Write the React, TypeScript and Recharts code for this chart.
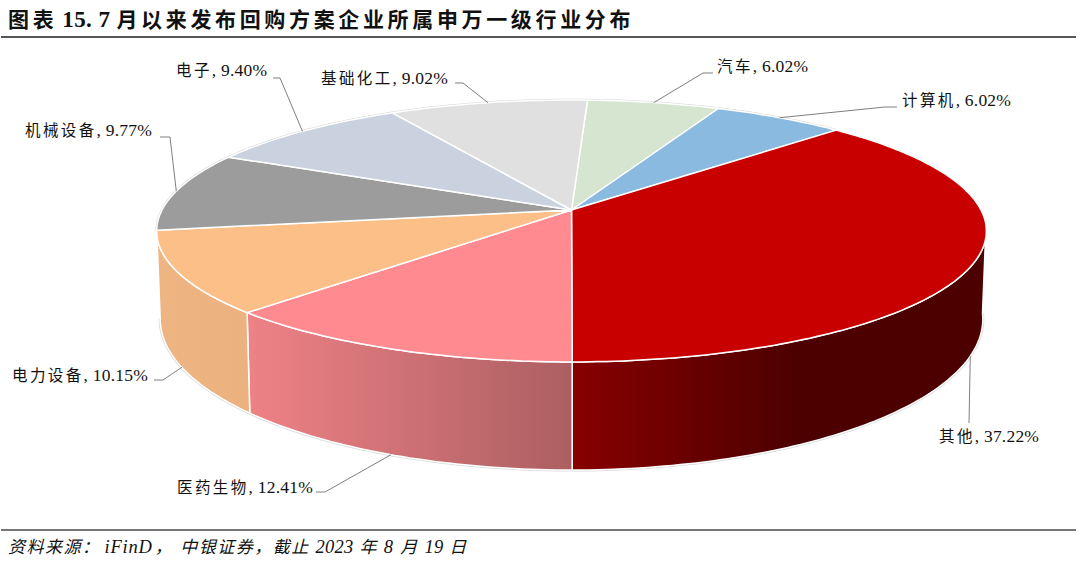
import { PieChart, Pie, Cell } from 'recharts';

const CATEGORIES = ['汽车', '计算机', '其他', '医药生物', '电力设备', '机械设备', '电子', '基础化工'];
const SHARES = [6.02, 6.02, 37.22, 12.41, 10.15, 9.77, 9.4, 9.02];
const TOP_COLORS = ['#d5e5cf', '#8bbae0', '#c80000', '#ff8a90', '#fcbf88', '#9c9c9c', '#c9d2de', '#e0e0e0'];

const chartData = CATEGORIES.map((name, i) => ({ name, value: SHARES[i] }));

// side wall shading, only the three front slices show a wall
const WALLS: Record<number, { x1: number; x2: number; from: string; to: string }> = {
  2: { x1: 571, x2: 800, from: '#880000', to: '#4c0000' },
  3: { x1: 248, x2: 571, from: '#ee8286', to: '#ac5f62' },
  4: { x1: 160, x2: 250, from: '#eeb583', to: '#ebb27f' },
};

// label text position and leader elbow, same order as CATEGORIES
const LABELS = [
  { x: 717, y: 72, elbow: [[703, 73], [713, 73]] },
  { x: 902, y: 106, elbow: [[885, 107], [897, 107]] },
  { x: 939, y: 442, elbow: [[969, 423]] },
  { x: 177, y: 493, elbow: [[325, 492], [316, 492]] },
  { x: 12, y: 381, elbow: [[163, 380], [154, 380]] },
  { x: 25, y: 136, elbow: [[170, 137], [160, 137]] },
  { x: 176, y: 76, elbow: [[280, 78], [273, 78]] },
  { x: 321, y: 84, elbow: [[463, 83], [455, 83]] },
];

const FONT = '"Liberation Serif", "Noto Sans CJK SC", serif';
const PERSPECTIVE = -0.16;
const TOP_DISC = { x: 571.5, y: 210, a: 409.5, b: 127.6 };
const BOTTOM_DISC = { x: 571.5, y: 295, a: 406, b: 147 };

// clockwise degrees from twelve o'clock -> point on the tilted disc
const project = (disc: typeof TOP_DISC, deg: number) => {
  const r = (deg * Math.PI) / 180;
  const c = Math.sin(r);
  const s = -Math.cos(r);
  const d = 1 + PERSPECTIVE * s;
  return [disc.x + (disc.a * c) / d, disc.y + (disc.b * s) / d];
};

const arc = (disc: typeof TOP_DISC, from: number, to: number) => {
  const pts: number[][] = [];
  const n = Math.max(2, Math.ceil(Math.abs(to - from)));
  for (let i = 0; i <= n; i++) pts.push(project(disc, from + ((to - from) * i) / n));
  return pts;
};

const toPath = (pts: number[][]) => pts.map((p, i) => `${i ? 'L' : 'M'}${p[0].toFixed(1)},${p[1].toFixed(1)}`).join(' ');

const renderSlice = (props: any) => {
  const index = props.index ?? CATEGORIES.indexOf(props.name);
  const from = 90 - props.startAngle;
  const to = 90 - props.endAngle;
  const rim = arc(TOP_DISC, from, to);
  const wallFrom = Math.max(from, 97);
  const wallTo = Math.min(to, 261);
  const hasWall = wallTo > wallFrom;
  const wallTop = hasWall ? arc(TOP_DISC, wallFrom, wallTo) : [];
  const wallBottom = hasWall ? arc(BOTTOM_DISC, wallTo, wallFrom) : [];
  return (
    <g>
      {hasWall && (
        <>
          <path d={toPath(wallBottom)} fill="none" stroke="#dadada" strokeWidth={3} />
          <path
            d={`${toPath([...wallTop, ...wallBottom])} Z`}
            fill={`url(#wall-${index})`}
            stroke="#fff"
            strokeWidth={1.5}
            strokeLinejoin="round"
          />
        </>
      )}
      {!hasWall && <path d={toPath(rim)} fill="none" stroke="#d6d6d6" strokeWidth={2.5} />}
      <path
        d={`M${TOP_DISC.x},${TOP_DISC.y} ${toPath(rim).replace('M', 'L')} Z`}
        fill={TOP_COLORS[index]}
        stroke="#fff"
        strokeWidth={1.5}
        strokeLinejoin="round"
      />
    </g>
  );
};

const renderLabel = (props: any) => {
  const { index, midAngle, value, name } = props;
  const deg = 90 - midAngle;
  const onWall = deg > 100 && deg < 261;
  const start = project(onWall ? BOTTOM_DISC : TOP_DISC, deg);
  const layout = LABELS[index];
  const line = [start, ...layout.elbow];
  return (
    <g key={name}>
      <path d={toPath(line)} fill="none" stroke="#7f7f7f" strokeWidth={1} />
      <text x={layout.x} y={layout.y} fontFamily={FONT} fill="#111">
        <tspan fontSize={15.5} letterSpacing={2.4}>{name}</tspan>
        <tspan fontSize={17.5} letterSpacing={0.2}>{`, ${value.toFixed(2)}%`}</tspan>
      </text>
    </g>
  );
};

export default function App() {
  return (
    <div style={{ position: 'absolute', left: 0, top: 0, width: 1080, height: 566, background: '#fff', overflow: 'hidden' }}>
      <div
        style={{
          position: 'absolute',
          left: 8,
          top: 6,
          fontFamily: FONT,
          fontWeight: 700,
          fontSize: 21,
          lineHeight: '28px',
          letterSpacing: 3.65,
          color: '#111',
          whiteSpace: 'nowrap',
        }}
      >
        图表<span style={{ marginLeft: 5, fontSize: 23, letterSpacing: 0.4 }}>15. 7 </span>月以来发布回购方案企业所属申万一级行业分布
      </div>
      <div style={{ position: 'absolute', left: 1, top: 36, width: 1075, height: 2, background: '#555' }} />
      <PieChart width={1080} height={566} margin={{ top: 0, right: 0, bottom: 0, left: 0 }}>
        <defs>
          {Object.entries(WALLS).map(([i, w]) => (
            <linearGradient key={i} id={`wall-${i}`} gradientUnits="userSpaceOnUse" x1={w.x1} y1={0} x2={w.x2} y2={0}>
              <stop offset="0%" stopColor={w.from} />
              <stop offset="100%" stopColor={w.to} />
            </linearGradient>
          ))}
        </defs>
        <Pie
          data={chartData}
          dataKey="value"
          nameKey="name"
          cx={571}
          cy={210}
          outerRadius={200}
          startAngle={87.4}
          endAngle={-272.6}
          isAnimationActive={false}
          shape={renderSlice}
          label={renderLabel}
          labelLine={false}
        >
          {chartData.map((d, i) => (
            <Cell key={d.name} fill={TOP_COLORS[i]} />
          ))}
        </Pie>
      </PieChart>
      <div style={{ position: 'absolute', left: 1, top: 529, width: 1075, height: 2, background: '#777' }} />
      <div
        style={{
          position: 'absolute',
          left: 8,
          top: 535,
          fontFamily: FONT,
          fontStyle: 'italic',
          fontSize: 17,
          lineHeight: '24px',
          letterSpacing: 1.5,
          color: '#111',
          whiteSpace: 'nowrap',
        }}
      >
        资料来源：<span style={{ marginLeft: 4, marginRight: 2, fontSize: 18.5, letterSpacing: 0.8 }}>iFinD</span>，<span style={{ marginLeft: 7 }}>中银证券，</span>截止 <span style={{ fontSize: 18.5, letterSpacing: 0.3 }}>2023</span> 年 <span style={{ fontSize: 18.5 }}>8</span> 月 <span style={{ fontSize: 18.5, letterSpacing: 0.3 }}>19</span> 日
      </div>
    </div>
  );
}
